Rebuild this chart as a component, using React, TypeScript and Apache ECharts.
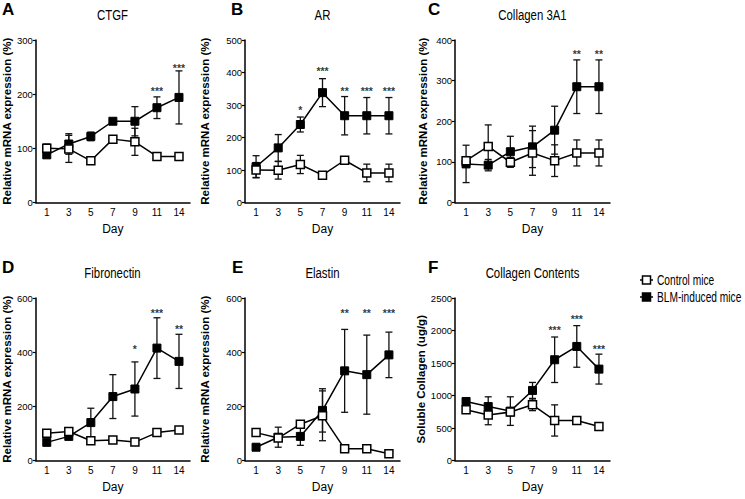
import React, { useEffect, useRef } from "react";
import * as echarts from "echarts";

const days = ["1", "3", "5", "7", "9", "11", "14"];

const ctgfBLM = [88, 108, 122, 150, 150, 175, 194];
const ctgfBLMErr = [5, 19, 8, 5, 27, 20, 49];
const ctgfCtrl = [100, 99, 77, 117, 112, 85, 85];
const ctgfCtrlErr = [8, 25, 6, 6, 25, 4, 4];
const ctgfStars: [string, number, string][] = [["11", 212, "***"], ["14", 254, "***"]];

const arBLM = [110, 168, 240, 338, 267, 267, 267];
const arBLMErr = [34, 41, 23, 43, 59, 56, 56];
const arCtrl = [100, 99, 117, 84, 130, 91, 91];
const arCtrlErr = [23, 27, 28, 10, 10, 27, 27];
const arStars: [string, number, string][] = [["5", 293, "*"], ["7", 413, "***"], ["9", 353, "**"], ["11", 353, "***"], ["14", 353, "***"]];

const col3BLM = [95, 92, 125, 137, 178, 285, 285];
const col3BLMErr = [46, 14, 38, 51, 59, 66, 66];
const col3Ctrl = [103, 138, 99, 122, 103, 122, 122];
const col3CtrlErr = [10, 53, 12, 55, 39, 32, 32];
const col3Stars: [string, number, string][] = [["11", 373, "**"], ["14", 373, "**"]];

const fibBLM = [67, 89, 140, 236, 264, 415, 366];
const fibBLMErr = [10, 10, 53, 81, 100, 112, 100];
const fibCtrl = [101, 107, 73, 76, 68, 103, 113];
const fibCtrlErr = [8, 10, 10, 12, 10, 12, 12];
const fibStars: [string, number, string][] = [["9", 424, "*"], ["11", 557, "***"], ["14", 498, "**"]];

const elaBLM = [49, 86, 89, 185, 331, 317, 390];
const elaBLMErr = [10, 37, 33, 80, 153, 146, 84];
const elaCtrl = [103, 83, 134, 165, 43, 43, 25];
const elaCtrlErr = [8, 10, 12, 92, 10, 12, 10];
const elaStars: [string, number, string][] = [["9", 557, "**"], ["11", 557, "**"], ["14", 557, "***"]];

const colcBLM = [908, 830, 760, 1078, 1550, 1755, 1406];
const colcBLMErr = [40, 150, 220, 123, 350, 320, 230];
const colcCtrl = [780, 700, 745, 857, 616, 616, 524];
const colcCtrlErr = [40, 150, 60, 90, 240, 50, 50];
const colcStars: [string, number, string][] = [["9", 2047, "***"], ["11", 2227, "***"], ["14", 1765, "***"]];

const legendNames = ["Control mice", "BLM-induced mice"];

const SANS = '"Liberation Sans", Arial, sans-serif';

const panels = [
  { letter: "A", title: "CTGF", left: 35, top: 40, max: 300, interval: 100, yName: "Relative mRNA expression (%)", nameGap: 21, letterX: 2, blm: ctgfBLM, blmErr: ctgfBLMErr, ctrl: ctgfCtrl, ctrlErr: ctgfCtrlErr, stars: ctgfStars },
  { letter: "B", title: "AR", left: 245, top: 40, max: 500, interval: 100, yName: "Relative mRNA expression (%)", nameGap: 34, letterX: 231, blm: arBLM, blmErr: arBLMErr, ctrl: arCtrl, ctrlErr: arCtrlErr, stars: arStars },
  { letter: "C", title: "Collagen 3A1", left: 455, top: 40, max: 400, interval: 100, yName: "Relative mRNA expression (%)", nameGap: 26, letterX: 428, blm: col3BLM, blmErr: col3BLMErr, ctrl: col3Ctrl, ctrlErr: col3CtrlErr, stars: col3Stars },
  { letter: "D", title: "Fibronectin", left: 35, top: 298, max: 600, interval: 200, yName: "Relative mRNA expression (%)", nameGap: 21, letterX: 2, blm: fibBLM, blmErr: fibBLMErr, ctrl: fibCtrl, ctrlErr: fibCtrlErr, stars: fibStars },
  { letter: "E", title: "Elastin", left: 245, top: 298, max: 600, interval: 200, yName: "Relative mRNA expression (%)", nameGap: 34, letterX: 232, blm: elaBLM, blmErr: elaBLMErr, ctrl: elaCtrl, ctrlErr: elaCtrlErr, stars: elaStars },
  { letter: "F", title: "Collagen Contents", left: 455, top: 298, max: 2500, interval: 500, yName: "Soluble Collagen (ug/g)", nameGap: 22, letterX: 428, blm: colcBLM, blmErr: colcBLMErr, ctrl: colcCtrl, ctrlErr: colcCtrlErr, stars: colcStars },
];

const GW = 155;
const GH = 162.5;

function errRender(params: any, api: any) {
  const x = api.value(0);
  const p1 = api.coord([x, api.value(1)]);
  const p2 = api.coord([x, api.value(2)]);
  const w = 3.5;
  const st = { stroke: "#111", lineWidth: 1.3 };
  return {
    type: "group",
    children: [
      { type: "line", shape: { x1: p1[0], y1: p1[1], x2: p2[0], y2: p2[1] }, style: st },
      { type: "line", shape: { x1: p1[0] - w, y1: p1[1], x2: p1[0] + w, y2: p1[1] }, style: st },
      { type: "line", shape: { x1: p2[0] - w, y1: p2[1], x2: p2[0] + w, y2: p2[1] }, style: st },
    ],
  };
}

export default function App() {
  const ref = useRef<HTMLDivElement>(null);
  useEffect(() => {
    if (!ref.current) return;
    const chart = echarts.init(ref.current, undefined, { renderer: "svg" });
    const grid: any[] = [];
    const xAxis: any[] = [];
    const yAxis: any[] = [];
    const series: any[] = [];
    const graphic: any[] = [];
    panels.forEach((p, gi) => {
      grid.push({ left: p.left, top: p.top, width: GW, height: GH });
      xAxis.push({
        type: "category",
        gridIndex: gi,
        data: days,
        boundaryGap: true,
        name: "Day",
        nameLocation: "middle",
        nameGap: 20,
        nameTextStyle: { fontFamily: SANS, fontSize: 12, color: "#000" },
        axisLine: { lineStyle: { color: "#000", width: 1.5 } },
        axisTick: { alignWithLabel: true, length: 3, lineStyle: { color: "#000", width: 1.2 } },
        axisLabel: { fontFamily: SANS, fontSize: 10, color: "#000", margin: 5 },
        splitLine: { show: false },
      });
      yAxis.push({
        type: "value",
        gridIndex: gi,
        min: 0,
        max: p.max,
        interval: p.interval,
        name: p.yName,
        nameLocation: "middle",
        nameRotate: 90,
        nameGap: p.nameGap,
        nameTextStyle: { fontFamily: SANS, fontSize: 11.5, fontWeight: "bold", color: "#000" },
        axisLine: { show: true, lineStyle: { color: "#000", width: 1.5 } },
        axisTick: { show: true, length: 3, lineStyle: { color: "#000", width: 1.2 } },
        axisLabel: { fontFamily: SANS, fontSize: 9.5, color: "#000", margin: 3, formatter: (v: number) => String(v) },
        splitLine: { show: false },
      });
      series.push({
        type: "custom",
        xAxisIndex: gi,
        yAxisIndex: gi,
        renderItem: errRender,
        encode: { x: 0, y: [1, 2] },
        data: p.ctrl.map((v, i) => [i, v - p.ctrlErr[i], v + p.ctrlErr[i]]),
        itemStyle: { color: "#000" },
        z: 1,
        silent: true,
      });
      series.push({
        type: "custom",
        xAxisIndex: gi,
        yAxisIndex: gi,
        renderItem: errRender,
        encode: { x: 0, y: [1, 2] },
        data: p.blm.map((v, i) => [i, v - p.blmErr[i], v + p.blmErr[i]]),
        itemStyle: { color: "#000" },
        z: 1,
        silent: true,
      });
      series.push({
        type: "line",
        name: legendNames[1],
        xAxisIndex: gi,
        yAxisIndex: gi,
        data: p.blm,
        symbol: "rect",
        symbolSize: 8,
        lineStyle: { color: "#000", width: 1.5 },
        itemStyle: { color: "#000", borderColor: "#000", borderWidth: 1 },
        z: 3,
      });
      series.push({
        type: "line",
        name: legendNames[0],
        xAxisIndex: gi,
        yAxisIndex: gi,
        data: p.ctrl,
        symbol: "rect",
        symbolSize: 8,
        lineStyle: { color: "#000", width: 1.5 },
        itemStyle: { color: "#fff", borderColor: "#000", borderWidth: 1.5 },
        z: 4,
      });
      const stars = p.stars;
      series.push({
        type: "scatter",
        xAxisIndex: gi,
        yAxisIndex: gi,
        symbolSize: 1,
        itemStyle: { color: "rgba(0,0,0,0)" },
        data: stars.map((s) => ({ value: [days.indexOf(s[0]), s[1]], name: s[2] })),
        label: {
          show: true,
          position: "inside",
          offset: [0, 3],
          formatter: (prm: any) => prm.name,
          color: "#000",
          fontFamily: SANS,
          fontWeight: "bold",
          fontSize: 10.5,
        },
        z: 5,
        silent: true,
      });
      graphic.push({
        type: "text",
        x: p.left + GW / 2,
        y: p.top - 25,
        scaleX: 0.76,
        style: { text: p.title, fontFamily: SANS, fontSize: 15, fill: "#000", align: "center", verticalAlign: "middle", textAlign: "center", textVerticalAlign: "middle" },
      });
      graphic.push({
        type: "text",
        x: p.letterX,
        y: p.top - 31,
        style: { text: p.letter, fontFamily: SANS, fontSize: 17, fontWeight: "bold", fill: "#000", verticalAlign: "middle", textVerticalAlign: "middle" },
      });
    });
    // legend
    const legY = [280, 297];
    legendNames.forEach((n, i) => {
      const y = legY[i];
      graphic.push({ type: "line", shape: { x1: 640, y1: y, x2: 653, y2: y }, style: { stroke: "#000", lineWidth: 1.5 } });
      graphic.push({
        type: "rect",
        shape: { x: 642.5, y: y - 4, width: 8, height: 8 },
        style: { fill: i === 0 ? "#fff" : "#000", stroke: "#000", lineWidth: 1.5 },
      });
      graphic.push({
        type: "text",
        x: 657,
        y,
        scaleX: 0.68,
        style: { text: n, fontFamily: SANS, fontSize: 15, fill: "#000", verticalAlign: "middle", textVerticalAlign: "middle" },
      });
    });
    chart.setOption({
      animation: false,
      backgroundColor: "#fff",
      grid,
      xAxis,
      yAxis,
      series,
      graphic,
    });
    return () => chart.dispose();
  }, []);
  return <div ref={ref} style={{ position: "fixed", left: 0, top: 0, width: 745, height: 499 }} />;
}
